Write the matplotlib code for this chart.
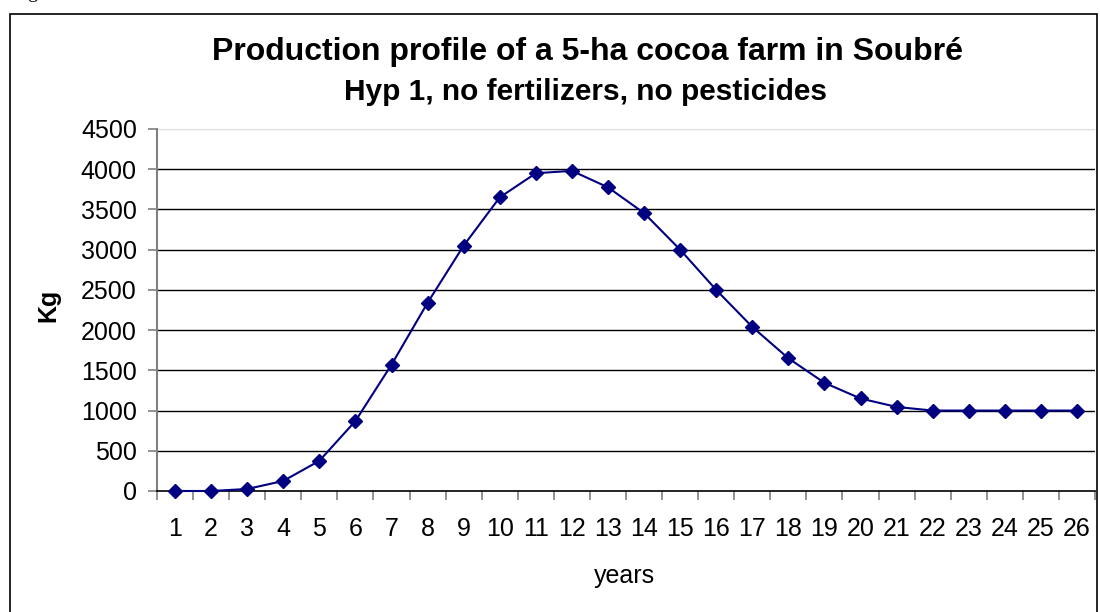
import matplotlib
matplotlib.use("Agg")
import matplotlib.pyplot as plt
from matplotlib.patches import Rectangle

plt.rcParams["font.family"] = ["Liberation Sans", "DejaVu Sans"]

# production per year (kg)
years = list(range(1, 27))
kg = [0, 0, 25, 125, 375, 870, 1570, 2340, 3050, 3650, 3950, 3980, 3775,
      3455, 3000, 2500, 2040, 1650, 1345, 1150, 1045, 1000, 1000, 1000,
      1000, 1000]
yticks = list(range(0, 4501, 500))

NAVY = "#000080"
W, H = 1100, 612

fig = plt.figure(figsize=(11, 6.12), dpi=100)
ax = fig.add_axes([157 / W, 1 - 491 / H, (1095 - 157) / W, (491 - 129) / H])

# outer chart frame (bottom edge runs off the picture)
fig.patches.append(Rectangle((9.5 / W, -0.05), (1096.5 - 9.5) / W, 1.05 - 13.5 / H,
                             transform=fig.transFigure, fill=False,
                             ec="#000000", lw=1.2))
# leftover caption above the frame, mostly cut off
fig.text(12 / W, 1 + 2 / H, "Figure", fontsize=14, family="Liberation Serif",
         ha="left", va="baseline")

ax.plot(years, kg, color=NAVY, lw=1.5, marker="D", ms=7.5, mfc=NAVY, mec=NAVY,
        zorder=3, clip_on=False)

ax.set_xlim(0.5, 26.5)
ax.set_ylim(0, 4500)
ax.set_yticks(yticks)
ax.set_xticks(years)
ax.set_xticks([i + 0.5 for i in range(0, 27)], minor=True)
ax.tick_params(axis="x", which="major", length=0, labelsize=18, pad=19)
ax.tick_params(axis="x", which="minor", length=6.5, color="#808080", width=1.2)
ax.tick_params(axis="y", length=6.5, color="#808080", width=1.2, labelsize=18, pad=8)

for v in yticks[1:-1]:
    ax.axhline(v, color="#000000", lw=1.0, zorder=1)
ax.axhline(4500, color="#DDDDDD", lw=1.0, zorder=1)

for s in ["top", "right"]:
    ax.spines[s].set_visible(False)
ax.spines["left"].set_color("#808080")
ax.spines["left"].set_linewidth(1.5)
ax.spines["bottom"].set_color("#000000")
ax.spines["bottom"].set_linewidth(1.2)

ax.set_ylabel("Kg", fontsize=18, fontweight="bold")
ax.yaxis.set_label_coords((60 - 157) / (1095 - 157), (491 - 305) / (491 - 129))
ax.set_xlabel("years", fontsize=18, va="baseline")
ax.xaxis.set_label_coords((624 - 157) / (1095 - 157), -(583 - 491) / (491 - 129))

fig.text(587 / W, 1 - 60 / H, "Production profile of a 5-ha cocoa farm in Soubré",
         fontsize=23, fontweight="bold", ha="center", va="baseline")
fig.text(586 / W, 1 - 100 / H, "Hyp 1, no fertilizers, no pesticides",
         fontsize=21.5, fontweight="bold", ha="center", va="baseline")

fig.savefig("out.png", dpi=100, facecolor="white")
